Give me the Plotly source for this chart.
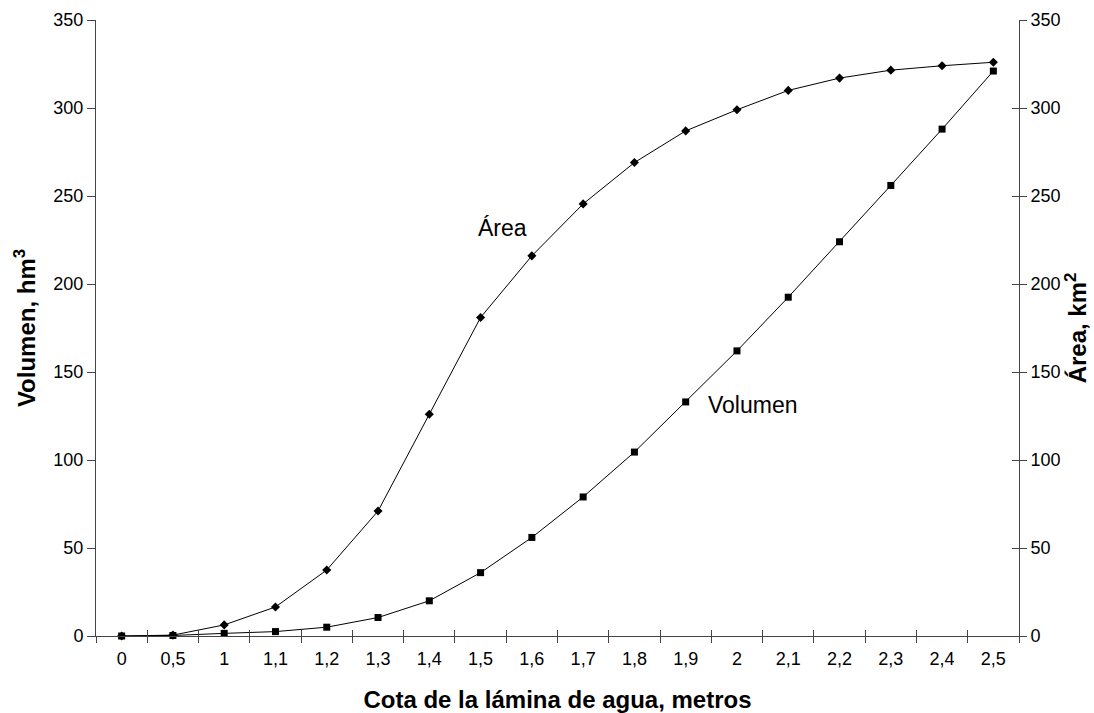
import plotly.graph_objects as go

cota = ["0", "0,5", "1", "1,1", "1,2", "1,3", "1,4", "1,5", "1,6", "1,7",
        "1,8", "1,9", "2", "2,1", "2,2", "2,3", "2,4", "2,5"]
area_km2 = [0, 0.5, 6.3, 16.5, 37.5, 71, 126, 181, 216, 245.5,
            269, 287, 299, 310, 317, 321.5, 324, 326]
volumen_hm3 = [0, 0.3, 1.5, 2.5, 5, 10.5, 20, 36, 56, 79,
               104.5, 133, 162, 192.5, 224, 256, 288, 321]
y_ticks = [0, 50, 100, 150, 200, 250, 300, 350]

FONT = "Liberation Sans, Arial, sans-serif"
AXC = "#444"

fig = go.Figure()
fig.add_trace(go.Scatter(
    x=cota, y=volumen_hm3, mode="lines+markers", name="Volumen",
    line=dict(color="black", width=1),
    marker=dict(symbol="square", size=7, color="black"),
    xaxis="x", yaxis="y", cliponaxis=False))
fig.add_trace(go.Scatter(
    x=cota, y=area_km2, mode="lines+markers", name="Área",
    line=dict(color="black", width=1),
    marker=dict(symbol="diamond", size=7, color="black"),
    xaxis="x", yaxis="y2", cliponaxis=False))
# invisible helper trace for inside tick marks (crossing ticks)
fig.add_trace(go.Scatter(x=cota, y=[None] * len(cota), xaxis="x2", yaxis="y3",
                         showlegend=False, hoverinfo="skip"))

tickfont = dict(family=FONT, size=18, color="black")
titlefont = dict(family=FONT, size=24, color="black", weight="bold")

fig.update_layout(
    width=1094, height=713,
    margin=dict(l=96, r=75, t=20, b=77),
    paper_bgcolor="white", plot_bgcolor="white",
    showlegend=False,
    font=dict(family=FONT, color="black"),
    xaxis=dict(type="category", range=[-0.5, 17.5],
               tickmode="array", tickvals=cota, ticktext=cota,
               tickson="boundaries", ticks="outside", ticklen=6,
               ticklabelstandoff=6, automargin=False,
               tickcolor=AXC, showline=True, linecolor=AXC, linewidth=1,
               showgrid=False, zeroline=False, tickfont=tickfont,
               title=dict(text="Cota de la lámina de agua, metros",
                          font=titlefont, standoff=24)),
    xaxis2=dict(type="category", range=[-0.5, 17.5], overlaying="x",
                anchor="y", tickson="boundaries", ticks="inside", ticklen=6,
                tickcolor=AXC, showticklabels=False, showgrid=False,
                zeroline=False, showline=False),
    yaxis=dict(range=[0, 350], tickmode="array", tickvals=y_ticks,
               ticks="outside", ticklen=8, tickcolor=AXC, automargin=False,
               showline=True, linecolor=AXC, linewidth=1,
               showgrid=False, zeroline=False, tickfont=tickfont,
               title=dict(text="Volumen, hm<sup>3</sup>", font=titlefont,
                          standoff=10)),
    yaxis2=dict(range=[0, 350], overlaying="y", side="right", anchor="x",
                tickmode="array", tickvals=y_ticks, automargin=False,
                ticks="outside", ticklen=7, tickcolor=AXC,
                showline=True, linecolor=AXC, linewidth=1,
                showgrid=False, zeroline=False, tickfont=tickfont,
                title=dict(text="Área, km<sup>2</sup>", font=titlefont,
                           standoff=6)),
    yaxis3=dict(range=[0, 350], overlaying="y", side="right", anchor="x",
                tickmode="array", tickvals=y_ticks, ticks="inside", ticklen=7,
                tickcolor=AXC, showticklabels=False, showgrid=False,
                zeroline=False, showline=False),
)

fig.add_annotation(x="1,5", y=232, xref="x", yref="y", text="Área",
                   showarrow=False, xshift=22,
                   font=dict(family=FONT, size=23, color="black"))
fig.add_annotation(x="1,9", y=131, xref="x", yref="y", text="Volumen",
                   showarrow=False, xshift=67,
                   font=dict(family=FONT, size=23, color="black"))

fig.write_html("out.html")
